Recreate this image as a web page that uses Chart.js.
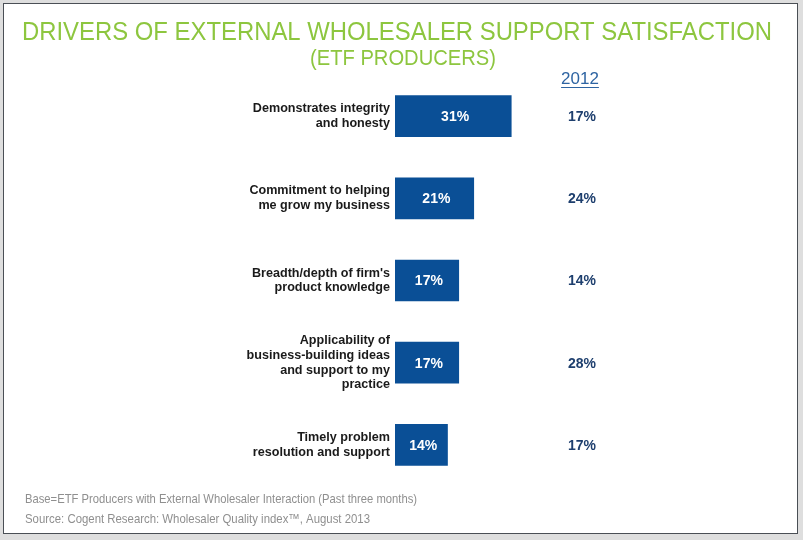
<!DOCTYPE html>
<html>
<head>
<meta charset="utf-8">
<script src="https://cdn.jsdelivr.net/npm/chart.js@4/dist/chart.umd.min.js"></script>
<style>
  html, body { margin: 0; padding: 0; background: #ffffff; }
  canvas { display: block; }
</style>
</head>
<body>
<canvas id="chart" width="803" height="540"></canvas>
<script>
// Dados do gráfico
const categorias = [
    ['Demonstrates integrity', 'and honesty'],
    ['Commitment to helping', 'me grow my business'],
    ["Breadth/depth of firm's", 'product knowledge'],
    ['Applicability of', 'business-building ideas', 'and support to my', 'practice'],
    ['Timely problem', 'resolution and support']
];
const valores2013 = [31, 21, 17, 17, 14];
const valores2012 = [17, 24, 14, 28, 17];
const anoAnterior = '2012';

const titulo = 'DRIVERS OF EXTERNAL WHOLESALER SUPPORT SATISFACTION';
const subtitulo = '(ETF PRODUCERS)';
const notas = [
    'Base=ETF Producers with External Wholesaler Interaction (Past three months)',
    'Source: Cogent Research: Wholesaler Quality index\u2122, August 2013'
];

// escreve texto ajustado a uma largura (fonte condensada)
function textoAjustado(ctx, texto, x, y, largura, align) {
    const w = ctx.measureText(texto).width;
    const s = largura / w;
    ctx.save();
    ctx.translate(x, y);
    ctx.scale(s, 1);
    ctx.textAlign = align;
    ctx.fillText(texto, 0, 0);
    ctx.restore();
}

// Moldura, títulos e notas
const moldura = {
    id: 'moldura',
    beforeDraw(chart) {
        const ctx = chart.ctx;
        ctx.save();
        ctx.fillStyle = '#dedede';
        ctx.fillRect(0, 0, chart.width, chart.height);
        ctx.fillStyle = '#ffffff';
        ctx.fillRect(4, 4, 793, 529);
        ctx.strokeStyle = '#4a4f55';
        ctx.lineWidth = 1;
        ctx.strokeRect(3.5, 3.5, 794, 530);

        ctx.fillStyle = '#8dc63f';
        ctx.textBaseline = 'alphabetic';
        ctx.font = '26px "Liberation Sans", Arial, sans-serif';
        textoAjustado(ctx, titulo, 397, 40, 750, 'center');
        ctx.font = '22px "Liberation Sans", Arial, sans-serif';
        textoAjustado(ctx, subtitulo, 403, 65, 186, 'center');

        ctx.fillStyle = '#8f8f8f';
        ctx.font = '13px "Liberation Sans", Arial, sans-serif';
        textoAjustado(ctx, notas[0], 25, 503, 392, 'left');
        textoAjustado(ctx, notas[1], 25, 523, 345, 'left');
        ctx.restore();
    }
};

// Rótulos nas barras e coluna 2012
const rotulos = {
    id: 'rotulos',
    afterDatasetsDraw(chart) {
        const ctx = chart.ctx;
        const meta = chart.getDatasetMeta(0);
        ctx.save();
        ctx.textAlign = 'center';
        ctx.textBaseline = 'middle';
        meta.data.forEach((bar, i) => {
            ctx.fillStyle = '#ffffff';
            ctx.font = 'bold 14px "Liberation Sans", Arial, sans-serif';
            ctx.fillText(valores2013[i] + '%', (bar.base + bar.x) / 2 + 2, bar.y + 1);
            ctx.fillStyle = '#1e3f6e';
            ctx.fillText(valores2012[i] + '%', 582, bar.y + 1);
        });
        ctx.fillStyle = '#2e64a2';
        ctx.font = '17px "Liberation Sans", Arial, sans-serif';
        ctx.textBaseline = 'alphabetic';
        ctx.fillText(anoAnterior, 580, 84);
        const w = ctx.measureText(anoAnterior).width;
        ctx.strokeStyle = '#2e64a2';
        ctx.lineWidth = 1;
        ctx.beginPath();
        ctx.moveTo(580 - w / 2, 87.5);
        ctx.lineTo(580 + w / 2, 87.5);
        ctx.stroke();
        ctx.restore();
    }
};

new Chart(document.getElementById('chart'), {
    type: 'bar',
    data: {
        labels: categorias,
        datasets: [{
            label: '2013',
            data: valores2013,
            backgroundColor: '#0a4f96',
            barThickness: 41
        }]
    },
    options: {
        indexAxis: 'y',
        responsive: false,
        animation: false,
        layout: { padding: { top: 75, bottom: 54, right: 33, left: 0 } },
        plugins: {
            legend: { display: false },
            tooltip: { enabled: false }
        },
        scales: {
            x: {
                display: false,
                min: 0,
                max: 100
            },
            y: {
                grid: { display: false, drawTicks: false },
                border: { display: false },
                afterFit(scale) { scale.width = 395; },
                ticks: {
                    color: '#1a1a1a',
                    padding: 5,
                    font: { family: '"Liberation Sans", Arial, sans-serif', size: 12.6, weight: 'bold', lineHeight: 1.18 }
                }
            }
        }
    },
    plugins: [moldura, rotulos]
});
</script>
</body>
</html>
